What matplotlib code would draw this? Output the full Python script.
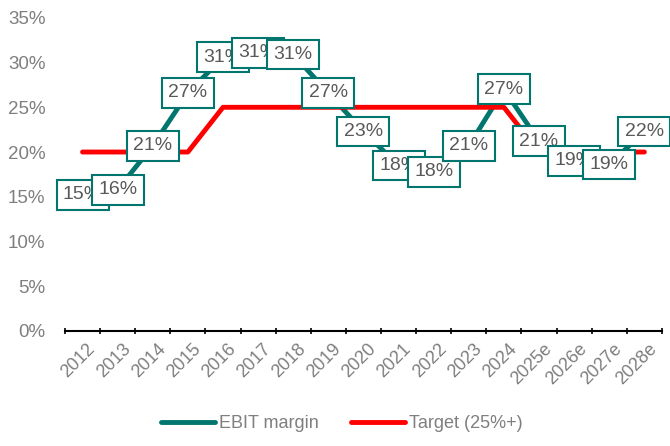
import matplotlib.pyplot as plt
import numpy as np
import matplotlib.ticker as ticker

plt.rcParams['font.family'] = ['Liberation Sans', 'DejaVu Sans']

# Data
years = ['2012', '2013', '2014', '2015', '2016', '2017', '2018', '2019', '2020',
         '2021', '2022', '2023', '2024', '2025e', '2026e', '2027e', '2028e']
ebit = [15.2, 15.8, 20.7, 26.6, 30.6, 31.1, 30.9, 26.6, 22.3,
        18.5, 17.8, 20.7, 27.0, 21.2, 19.0, 18.6, 22.3]
ebit_labels = ['15%', '16%', '21%', '27%', '31%', '31%', '31%', '27%', '23%',
               '18%', '18%', '21%', '27%', '21%', '19%', '19%', '22%']
target = [20, 20, 20, 20, 25, 25, 25, 25, 25, 25, 25, 25, 25, 20, 20, 20, 20]

teal = '#00766F'
red = '#FF0000'
grey = '#7F7F7F'

fig = plt.figure(figsize=(6.7, 4.46), dpi=100)
ax1 = fig.add_axes([0.097, 0.258, 0.891, 0.702])

x = np.arange(len(years))
ax1.plot(x, ebit, '-', color=teal, linewidth=3.5, solid_capstyle='round',
         solid_joinstyle='round', label='EBIT margin', zorder=2)
ax1.plot(x, target, '-', color=red, linewidth=3.5, solid_capstyle='round',
         solid_joinstyle='round', label='Target (25%+)', zorder=3)

for xi, yi, lab in zip(x, ebit, ebit_labels):
    ax1.annotate(lab, (xi, yi), ha='center', va='center', fontsize=14, color='#595959',
                 zorder=5,
                 bbox=dict(boxstyle='square,pad=0.33', fc='white', ec=teal, lw=1.5))

ax1.set_xlim(-0.5, len(years) - 0.5)
ax1.set_ylim(0, 35)
ax1.yaxis.set_major_locator(ticker.MultipleLocator(5))
ax1.yaxis.set_major_formatter(ticker.FuncFormatter(lambda v, p: '%d%%' % v))

ax1.set_xticks(x + 0.12)
ax1.set_xticklabels(years, rotation=45, ha='right', rotation_mode='anchor')
ax1.xaxis.set_minor_locator(ticker.FixedLocator(np.arange(-0.5, len(years), 1)))
ax1.tick_params(axis='x', which='major', length=0, labelsize=13, labelcolor=grey, pad=7)
ax1.tick_params(axis='x', which='minor', length=5, direction='inout', color='black', width=1.2)
ax1.tick_params(axis='y', length=0, labelsize=13.5, labelcolor=grey, pad=14)

for s in ['top', 'right', 'left']:
    ax1.spines[s].set_visible(False)
ax1.spines['bottom'].set_linewidth(1.5)
ax1.spines['bottom'].set_color('black')

leg = fig.legend(loc='lower center', bbox_to_anchor=(0.51, -0.005), ncol=2, frameon=False,
                 fontsize=13, handlelength=3.0, columnspacing=1.8, handletextpad=0.2)
for t in leg.get_texts():
    t.set_color(grey)

fig.savefig('out.png', dpi=100)
